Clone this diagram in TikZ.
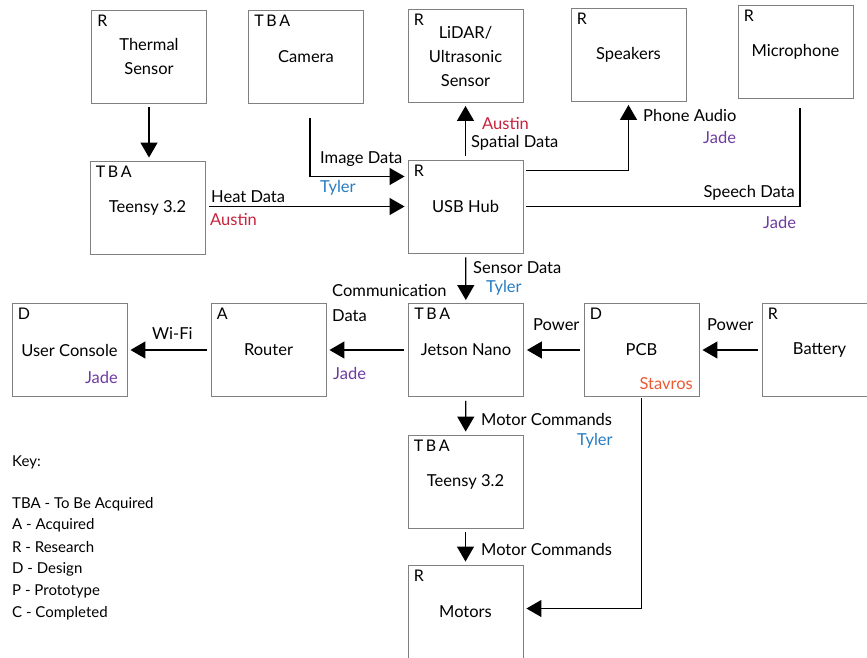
\documentclass[tikz,border=0pt]{standalone}
\usepackage{fontspec}
\setmainfont{Lato}
\usetikzlibrary{arrows.meta}
\definecolor{austinred}{RGB}{200,35,60}
\definecolor{tylerblue}{RGB}{40,125,195}
\definecolor{jadepurple}{RGB}{110,60,160}
\definecolor{stavrosorange}{RGB}{235,90,50}
\begin{document}
\begin{tikzpicture}[x=1pt,y=-1pt,
                block/.style={draw=gray,line width=0.9pt,minimum width=115pt,minimum height=93pt,align=center,font=\fontsize{16.5}{24}\selectfont},
                status/.style={anchor=north west,inner sep=0pt,font=\fontsize{16}{18}\selectfont},
                lbl/.style={anchor=west,inner sep=0pt,font=\fontsize{16.5}{18}\selectfont},
                keytext/.style={anchor=west,inner sep=0pt,font=\fontsize{15}{16}\selectfont},
                flow/.style={line width=1.3pt,-{Triangle[width=17pt,length=15pt]},shorten >=3pt,shorten <=4pt},
                wire/.style={line width=1.3pt}]
                \clip (0,0) rectangle (867,658);
                \fill[white] (0,0) rectangle (867,658);

                % blocks
                \node[block] (therm) at (149,56.5) {Thermal\\Sensor};
                \node[block] (cam) at (306,56.5) {Camera};
                \node[block] (lidar) at (465.5,56) {LiDAR/\\Ultrasonic\\Sensor};
                \node[block] (spk) at (628.5,55) {Speakers};
                \node[block] (mic) at (795.5,52) {Microphone};
                \node[block] (teensya) at (147.5,207.5) {Teensy 3.2};
                \node[block] (usb) at (465.5,206.5) {USB Hub};
                \node[block] (console) at (69.5,350) {User Console};
                \node[block] (router) at (268.5,350) {Router};
                \node[block] (jetson) at (466,350) {Jetson Nano};
                \node[block] (pcb) at (641.5,350) {PCB};
                \node[block] (battery) at (819.5,350) {Battery};
                \node[block] (teensyb) at (465.5,481.5) {Teensy 3.2};
                \node[block] (motors) at (465.5,611.5) {Motors};

                % status letters
                \node[status] (st1) at ([xshift=6pt,yshift=-5pt]therm.north west) {R};
                \node[status] (st2) at ([xshift=6pt,yshift=-5pt]cam.north west) {T\,B\,A};
                \node[status] (st3) at ([xshift=6pt,yshift=-5pt]lidar.north west) {R};
                \node[status] (st4) at ([xshift=6pt,yshift=-5pt]spk.north west) {R};
                \node[status] (st5) at ([xshift=6pt,yshift=-5pt]mic.north west) {R};
                \node[status] (st6) at ([xshift=6pt,yshift=-5pt]teensya.north west) {T\,B\,A};
                \node[status] (st7) at ([xshift=6pt,yshift=-5pt]usb.north west) {R};
                \node[status] (st8) at ([xshift=6pt,yshift=-5pt]console.north west) {D};
                \node[status] (st9) at ([xshift=6pt,yshift=-5pt]router.north west) {A};
                \node[status] (st10) at ([xshift=6pt,yshift=-5pt]jetson.north west) {T\,B\,A};
                \node[status] (st11) at ([xshift=6pt,yshift=-5pt]pcb.north west) {D};
                \node[status] (st12) at ([xshift=6pt,yshift=-5pt]battery.north west) {R};
                \node[status] (st13) at ([xshift=6pt,yshift=-5pt]teensyb.north west) {T\,B\,A};
                \node[status] (st14) at ([xshift=6pt,yshift=-5pt]motors.north west) {R};

                % connectors
                \coordinate (camout) at (310,118);
                \coordinate (micout) at (800,108);
                \draw[flow] (therm.south) -- (therm.south |- teensya.north);
                \draw[flow,shorten <=0pt] (camout) |- ([yshift=30pt]usb.west);
                \draw[flow] (teensya.east |- usb.west) -- (usb.west);
                \draw[flow] (usb) -- (lidar);
                \draw[flow,shorten <=3pt] ([yshift=36pt]usb.east) -| (spk.south);
                \draw[wire,shorten >=3pt] (micout) |- (usb.east);
                \draw[flow] (usb) -- (jetson);
                \draw[flow] (jetson) -- (router);
                \draw[flow] (router) -- (console);
                \draw[flow] (pcb) -- (jetson);
                \draw[flow] (battery) -- (pcb);
                \draw[flow] (jetson) -- (teensyb);
                \draw[flow] (teensyb) -- (motors);
                \draw[flow,shorten <=1pt] (pcb.south) |- ([yshift=3pt]motors.east);

                % connector labels
                \node[lbl] (l1) at (320,159) {Image Data};
                \node[lbl,text=tylerblue] (l2) at (320,188) {Tyler};
                \node[lbl] (l3) at (211,197) {Heat Data};
                \node[lbl,text=austinred] (l4) at (210,220) {Austin};
                \node[lbl,text=austinred] (l5) at (482,124) {Austin};
                \node[lbl] (l6) at (471,143) {Spatial Data};
                \node[lbl] (l7) at (643,115) {Phone Audio};
                \node[lbl,text=jadepurple] (l8) at (703,137) {Jade};
                \node[lbl,anchor=east] (l9) at (795,193) {Speech Data};
                \node[lbl,text=jadepurple] (l10) at (763,222) {Jade};
                \node[lbl] (l11) at (473,268) {Sensor Data};
                \node[lbl,text=tylerblue] (l12) at (486,288) {Tyler};
                \node[lbl] (l13) at (332,291) {Communication};
                \node[lbl] (l14) at (332,316) {Data};
                \node[lbl,text=jadepurple] (l15) at (333,373) {Jade};
                \node[lbl] (l16) at (152,333) {Wi-Fi};
                \node[lbl] (l17) at (533,325) {Power};
                \node[lbl] (l18) at (707,325) {Power};
                \node[lbl] (l19) at (481,419) {Motor Commands};
                \node[lbl,text=tylerblue] (l20) at (577,441) {Tyler};
                \node[lbl] (l21) at (481,549) {Motor Commands};
                \node[lbl,anchor=east,text=jadepurple] (l22) at (118,377) {Jade};
                \node[lbl,anchor=east,text=stavrosorange] (l23) at (693,384) {Stavros};

                % key
                \node[keytext] (key) at (12,462) {Key:};
                \node[keytext] (k1) at (12,504) {TBA - To Be Acquired};
                \node[keytext] (k2) at (12,525) {A - Acquired};
                \node[keytext] (k3) at (12,547) {R - Research};
                \node[keytext] (k4) at (12,569) {D - Design};
                \node[keytext] (k5) at (12,591) {P - Prototype};
                \node[keytext] (k6) at (12,613) {C - Completed};
            \end{tikzpicture}
\end{document}
